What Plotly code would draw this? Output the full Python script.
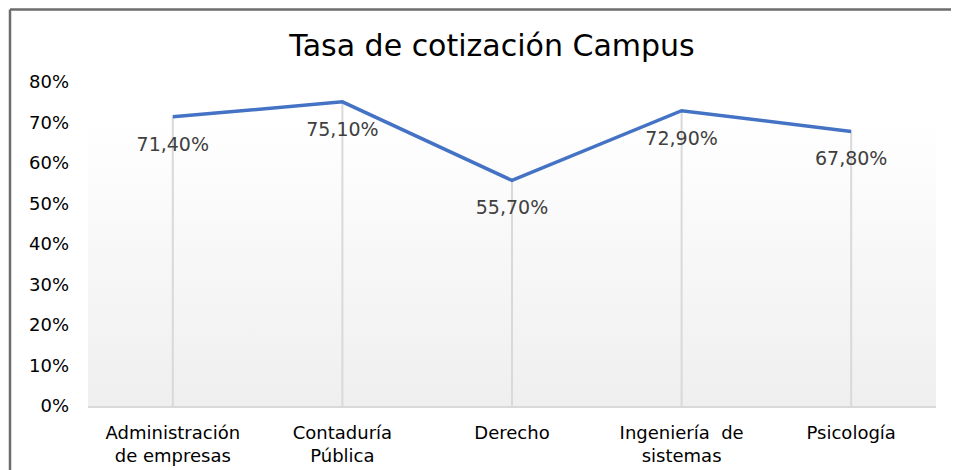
import plotly.graph_objects as go

categories = ["Administración<br>de empresas", "Contaduría<br>Pública", "Derecho",
              "Ingeniería  de<br>sistemas", "Psicología"]
values = [0.714, 0.751, 0.557, 0.729, 0.678]
labels = ["71,40%", "75,10%", "55,70%", "72,90%", "67,80%"]
tick_vals = [0, 0.1, 0.2, 0.3, 0.4, 0.5, 0.6, 0.7, 0.8]
tick_text = ["0%", "10%", "20%", "30%", "40%", "50%", "60%", "70%", "80%"]

FONT = "DejaVu Sans"
idx = list(range(len(categories)))

# page body has an 8px margin; figure coordinates are offset accordingly
L, T, PW, PH = 80, 74, 848, 326
W, H = 959, 470

fig = go.Figure()

# gradient plot-area background
fig.add_trace(go.Scatter(
    x=[-0.5, 4.5, 4.5, -0.5, -0.5], y=[0, 0, 0.714, 0.714, 0],
    mode="none", fill="toself",
    fillgradient=dict(type="vertical", colorscale=[[0, "#efefef"], [1, "#ffffff"]]),
    hoverinfo="skip", showlegend=False))

# drop lines
fig.add_trace(go.Scatter(
    x=idx, y=values, mode="markers", marker=dict(size=0.1, opacity=0),
    error_y=dict(type="data", symmetric=False, array=[0] * len(values),
                 arrayminus=values, color="#d9d9d9", thickness=2, width=0),
    hoverinfo="skip", showlegend=False))

# main line
fig.add_trace(go.Scatter(
    x=idx, y=values, mode="lines+markers+text", text=labels,
    textposition="bottom center",
    marker=dict(size=30, opacity=0),
    textfont=dict(family=FONT, size=19, color="#404040"),
    line=dict(color="#4472C4", width=3.5), showlegend=False))

bx = (2 - L) / PW
ty = (H - 1 - (H - T - PH)) / PH

fig.update_layout(
    width=W, height=H,
    margin=dict(l=L, r=W - L - PW, t=T, b=H - T - PH),
    paper_bgcolor="white", plot_bgcolor="rgba(0,0,0,0)",
    title=dict(text="Tasa de cotización Campus", x=(492 - 8) / W, xanchor="center",
               y=1 - (45 - 8) / H, yanchor="middle",
               font=dict(family=FONT, size=30, color="#000000")),
    xaxis=dict(tickmode="array", tickvals=idx, ticktext=categories,
               range=[-0.5, 4.5], showgrid=False, zeroline=False,
               showline=True, linecolor="#d9d9d9", linewidth=2,
               ticks="", ticklabelstandoff=9,
               tickfont=dict(family=FONT, size=18, color="#000000")),
    yaxis=dict(range=[0, 0.8], tickvals=tick_vals, ticktext=tick_text,
               showgrid=False, zeroline=False, showline=False, ticks="",
               ticklabelstandoff=18,
               tickfont=dict(family=FONT, size=18, color="#000000")),
    shapes=[
        dict(type="line", xref="paper", yref="paper",
             x0=bx, x1=bx, y0=-(H - T - PH) / PH, y1=ty,
             line=dict(color="#6d6d6d", width=2.5)),
        dict(type="line", xref="paper", yref="paper",
             x0=bx, x1=(W - L) / PW,
             y0=ty, y1=ty,
             line=dict(color="#6d6d6d", width=2.5)),
    ],
)

fig.write_html("out.html")
